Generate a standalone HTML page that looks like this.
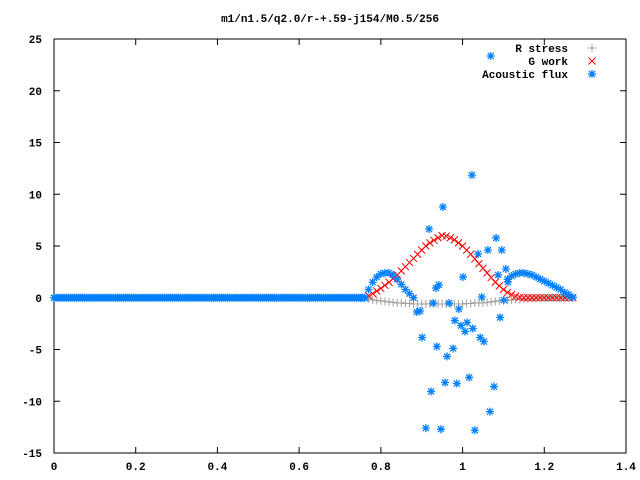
<!DOCTYPE html>
<html><head><meta charset="utf-8"><style>
body{margin:0;background:#fff}
svg{display:block}
text{font-family:"Liberation Mono",monospace;font-size:11px;font-weight:bold;fill:#000}
</style></head><body>
<svg id="c" width="640" height="480"></svg>
<script>
const xTicks=[0,0.2,0.4,0.6,0.8,1,1.2,1.4];
const xTickLabels=["0","0.2","0.4","0.6","0.8","1","1.2","1.4"];
const yTicks=[-15,-10,-5,0,5,10,15,20,25];
const gridX=[0.76,0.77,0.78,0.79,0.80,0.81,0.82,0.83,0.84,0.85,0.86,0.87,0.88,0.89,0.90,0.91,0.92,0.93,0.94,0.95,0.96,0.97,0.98,0.99,1.00,1.01,1.02,1.03,1.04,1.05,1.06,1.07,1.08,1.09,1.10,1.11,1.12,1.13,1.14,1.15,1.16,1.17,1.18,1.19,1.20,1.21,1.22,1.23,1.24,1.25,1.26,1.27];
const rStress=[0,-0.1,-0.2,-0.25,-0.3,-0.35,-0.4,-0.45,-0.5,-0.5,-0.55,-0.55,-0.6,-0.6,-0.6,-0.6,-0.6,-0.6,-0.6,-0.6,-0.6,-0.6,-0.6,-0.6,-0.6,-0.55,-0.55,-0.5,-0.5,-0.5,-0.45,-0.4,-0.35,-0.3,-0.3,-0.25,-0.2,-0.15,-0.15,-0.1,-0.1,-0.05,-0.05,0,0,0,0,0,0,0,0,0];
const gWork=[0,0.2,0.4,0.65,0.9,1.2,1.5,1.85,2.2,2.6,3.0,3.4,3.8,4.2,4.6,5.0,5.3,5.55,5.8,6.0,5.95,5.8,5.6,5.3,5.0,4.6,4.2,3.75,3.3,2.85,2.4,1.95,1.5,1.15,0.8,0.5,0.3,0.15,0.05,0,0,0,0,0,0,0,0,0,0,0,0,0];
const fluxCurve=[0,0.8,1.5,2.0,2.3,2.4,2.4,2.2,1.8,1.3,0.8,0.4,0,null,null,null,null,null,null,null,null,null,null,null,null,null,null,null,null,null,null,null,null,null,null,1.8,2.1,2.3,2.4,2.4,2.3,2.2,2.0,1.8,1.6,1.4,1.2,1.0,0.8,0.5,0.3,0.05];
const fluxScatX=[1.023,0.952,0.918,1.082,1.062,1.096,1.038,1.106,1.001,0.935,0.942,1.087,1.111,1.047,0.928,0.967,0.991,1.101,0.888,0.896,1.092,0.981,1.011,0.996,1.006,1.025,1.043,1.052,0.901,0.937,0.977,0.962,1.016,0.957,0.986,0.923,1.077,1.067,0.910,0.947,1.030,1.069];
const fluxScatY=[11.85,8.77,6.64,5.77,4.61,4.61,4.23,2.78,2.0,0.94,1.23,2.2,1.52,0.07,-0.51,-0.51,-1.09,-0.22,-1.38,-1.28,-1.91,-2.2,-2.39,-2.68,-3.26,-2.97,-3.84,-4.23,-3.84,-4.71,-4.9,-5.67,-7.7,-8.19,-8.29,-9.06,-8.58,-11.0,-12.6,-12.7,-12.8,23.36];
const flatCount=153, flatStep=0.005, flatValue=0;

const L=54,R=626,T=39,B=453,X0=0,X1=1.4,Y0=-15,Y1=25;
const sx=v=>L+(v-X0)/(X1-X0)*(R-L);
const sy=v=>B-(v-Y0)/(Y1-Y0)*(B-T);
const svg=document.getElementById('c');
const NS='http://www.w3.org/2000/svg';
function mk(tag,attrs,parent){const e=document.createElementNS(NS,tag);for(const k in attrs)e.setAttribute(k,attrs[k]);(parent||svg).appendChild(e);return e;}

const frame=mk('rect',{x:L,y:T,width:R-L,height:B-T,fill:'none',stroke:'#000','stroke-width':1});



const title=mk('text',{x:330,y:22,'text-anchor':'middle'});
title.textContent='m1/n1.5/q2.0/r-+.59-j154/M0.5/256';



xTicks.forEach((v,i)=>{
  const x=sx(v);
  const tk=mk('path',{d:`M${x},${B}v-6M${x},${T}v6`,stroke:'#000'});
  
  
  const t=mk('text',{x:x,y:B+17,'text-anchor':'middle'});
  t.textContent=xTickLabels[i];
  
  
});
yTicks.forEach(v=>{
  const y=sy(v);
  const tk=mk('path',{d:`M${L},${y}h6M${R},${y}h-6`,stroke:'#000'});
  
  
  const t=mk('text',{x:L-12,y:y+4,'text-anchor':'end'});
  t.textContent=String(v);
  
  
});

function plus(x,y,g){mk('path',{d:`M${x-4},${y}h8M${x},${y-4}v8`,stroke:'#a0a0a0','stroke-width':1},g);}
function cross(x,y,g){mk('path',{d:`M${x-3.5},${y-3.5}l7,7M${x-3.5},${y+3.5}l7,-7`,stroke:'#ff0000','stroke-width':1},g);}
function star(x,y,g){mk('path',{d:`M${x-4},${y}h8M${x},${y-4}v8M${x-3},${y-3}l6,6M${x-3},${y+3}l6,-6`,stroke:'#0080ff','stroke-width':1.3},g);}

const gR=mk('g',{});
gridX.forEach((v,i)=>plus(sx(v),sy(rStress[i]),gR));
const gG=mk('g',{});
gridX.forEach((v,i)=>cross(sx(v),sy(gWork[i]),gG));
const gF=mk('g',{});
for(let i=0;i<flatCount;i++)star(sx(i*flatStep),sy(flatValue),gF);
gridX.forEach((v,i)=>{if(fluxCurve[i]!==null)star(sx(v),sy(fluxCurve[i]),gF);});
fluxScatX.forEach((v,i)=>star(sx(v),sy(fluxScatY[i]),gF));

const leg=[['R stress',plus,48],['G work',cross,61],['Acoustic flux',star,74]];
leg.forEach(([lab,fn,y])=>{
  const g=mk('g',{});
  
  
  const t=mk('text',{x:568,y:y+4,'text-anchor':'end'},g);t.textContent=lab;
  fn(592,y,g);
});
</script>
</body></html>
